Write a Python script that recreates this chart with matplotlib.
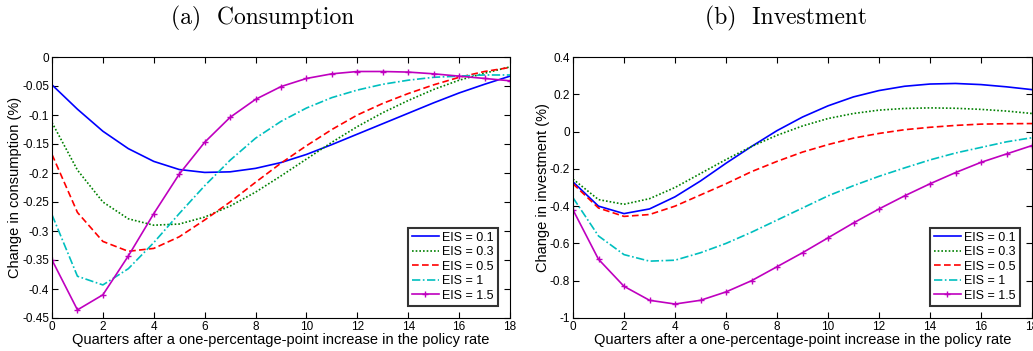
import numpy as np
import matplotlib
matplotlib.use('Agg')
import matplotlib.pyplot as plt

plt.rcParams['font.family'] = ['Liberation Sans', 'DejaVu Sans']
plt.rcParams['axes.unicode_minus'] = False

quarters = list(range(19))
labels = ['EIS = 0.1', 'EIS = 0.3', 'EIS = 0.5', 'EIS = 1', 'EIS = 1.5']

# consumption responses (%)
cons_01 = [-0.048, -0.09, -0.128, -0.158, -0.18, -0.194, -0.199, -0.198, -0.192, -0.182,
           -0.168, -0.151, -0.133, -0.115, -0.097, -0.079, -0.062, -0.047, -0.033]
cons_03 = [-0.113, -0.195, -0.25, -0.279, -0.29, -0.288, -0.276, -0.257, -0.233, -0.205,
           -0.176, -0.147, -0.12, -0.096, -0.075, -0.056, -0.04, -0.028, -0.017]
cons_05 = [-0.168, -0.268, -0.318, -0.335, -0.33, -0.31, -0.281, -0.25, -0.216, -0.183,
           -0.153, -0.125, -0.1, -0.08, -0.063, -0.048, -0.035, -0.025, -0.018]
cons_1 = [-0.272, -0.378, -0.393, -0.365, -0.32, -0.27, -0.222, -0.178, -0.14, -0.111,
          -0.088, -0.07, -0.057, -0.047, -0.04, -0.035, -0.033, -0.031, -0.031]
cons_15 = [-0.35, -0.436, -0.41, -0.343, -0.27, -0.202, -0.147, -0.104, -0.073, -0.051,
           -0.037, -0.029, -0.025, -0.025, -0.026, -0.029, -0.033, -0.037, -0.041]

# investment responses (%)
inv_01 = [-0.27, -0.40, -0.44, -0.415, -0.35, -0.265, -0.17, -0.08, 0.005, 0.078,
          0.138, 0.186, 0.22, 0.243, 0.255, 0.258, 0.252, 0.24, 0.225]
inv_03 = [-0.255, -0.365, -0.39, -0.36, -0.3, -0.225, -0.15, -0.08, -0.02, 0.03,
          0.07, 0.097, 0.115, 0.124, 0.127, 0.125, 0.119, 0.11, 0.097]
inv_05 = [-0.28, -0.41, -0.455, -0.445, -0.4, -0.34, -0.28, -0.215, -0.16, -0.11,
          -0.07, -0.035, -0.01, 0.01, 0.023, 0.033, 0.04, 0.042, 0.043]
inv_1 = [-0.355, -0.56, -0.66, -0.695, -0.69, -0.65, -0.6, -0.54, -0.475, -0.41,
         -0.345, -0.29, -0.24, -0.195, -0.152, -0.115, -0.085, -0.055, -0.033]
inv_15 = [-0.42, -0.685, -0.83, -0.905, -0.925, -0.905, -0.86, -0.8, -0.725, -0.65,
          -0.57, -0.49, -0.415, -0.345, -0.28, -0.22, -0.165, -0.12, -0.075]

styles = [dict(color='#0000ff', ls='-'),
          dict(color='#008000', ls=(0, (1, 1.2))),
          dict(color='#ff0000', ls=(0, (4, 2))),
          dict(color='#00bfbf', ls=(0, (5, 1.5, 1, 1.5))),
          dict(color='#bf00bf', ls='-', marker='+', ms=5, mew=1)]

fig = plt.figure(figsize=(10.33, 3.51), dpi=100)
ax1 = fig.add_axes([52/1033, 1-318/351, 458/1033, 261/351])
ax2 = fig.add_axes([573/1033, 1-318/351, 459/1033, 261/351])


def draw(ax, series, ylim, yticks, ytl, ylabel):
    for s, st, lab in zip(series, styles, labels):
        ax.plot(quarters, s, lw=1.2, label=lab, **st)
    ax.set_xlim(0, 18)
    ax.set_ylim(*ylim)
    ax.set_xticks(range(0, 19, 2))
    ax.set_yticks(yticks)
    ax.set_yticklabels(ytl)
    ax.tick_params(direction='in', top=True, right=True, labelsize=8.5, length=4, pad=2)
    ax.set_xlabel('Quarters after a one-percentage-point increase in the policy rate',
                  fontsize=10.5, labelpad=0)
    ax.set_ylabel(ylabel, fontsize=10.5, labelpad=0)
    for sp in ax.spines.values():
        sp.set_linewidth(0.8)
    leg = ax.legend(loc='lower right', fontsize=9, frameon=True, fancybox=False,
                    edgecolor='black', handlelength=2.2, handletextpad=0.25,
                    labelspacing=0.2, borderpad=0.3, borderaxespad=1.0)
    leg.get_frame().set_linewidth(1.5)


cons_ticks = [0, -0.05, -0.1, -0.15, -0.2, -0.25, -0.3, -0.35, -0.4, -0.45]
draw(ax1, [cons_01, cons_03, cons_05, cons_1, cons_15], (-0.45, 0), cons_ticks,
     ['0', '-0.05', '-0.1', '-0.15', '-0.2', '-0.25', '-0.3', '-0.35', '-0.4', '-0.45'],
     'Change in consumption (%)')

inv_ticks = [0.4, 0.2, 0, -0.2, -0.4, -0.6, -0.8, -1]
draw(ax2, [inv_01, inv_03, inv_05, inv_1, inv_15], (-1, 0.4), inv_ticks,
     ['0.4', '0.2', '0', '-0.2', '-0.4', '-0.6', '-0.8', '-1'],
     'Change in investment (%)')

fig.text(263/1033, 1-18/351, '(a)  Consumption', ha='center', va='center',
         fontsize=17, family='cmr10')
fig.text(786/1033, 1-18/351, '(b)  Investment', ha='center', va='center',
         fontsize=17, family='cmr10')

fig.savefig('out.png', dpi=100)
